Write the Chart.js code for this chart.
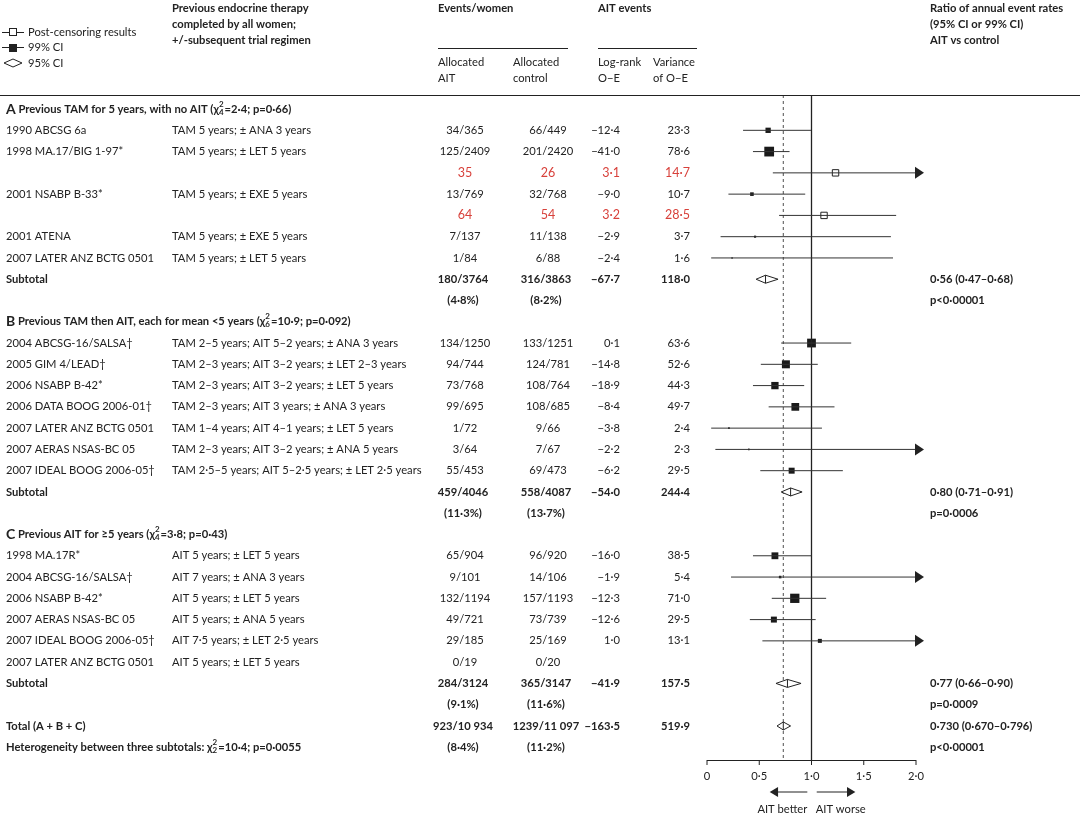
<!DOCTYPE html>
<html><head><meta charset="utf-8">
<script src="https://cdn.jsdelivr.net/npm/chart.js@4.4.1/dist/chart.umd.min.js"></script>
<style>html,body{margin:0;padding:0;background:#fff}canvas{display:block}</style>
</head><body>
<canvas id="c" width="1080" height="813"></canvas>
<script>
// row index -> study rows
const rowIdx = [1,2,3,4,5,6,7, 11,12,13,14,15,16,17, 21,22,23,24,25,26];
const studies = ["1990 ABCSG 6a","1998 MA.17/BIG 1-97*","","2001 NSABP B-33*","","2001 ATENA","2007 LATER ANZ BCTG 0501",
  "2004 ABCSG-16/SALSA†","2005 GIM 4/LEAD†","2006 NSABP B-42*","2006 DATA BOOG 2006-01†","2007 LATER ANZ BCTG 0501","2007 AERAS NSAS-BC 05","2007 IDEAL BOOG 2006-05†",
  "1998 MA.17R*","2004 ABCSG-16/SALSA†","2006 NSABP B-42*","2007 AERAS NSAS-BC 05","2007 IDEAL BOOG 2006-05†","2007 LATER ANZ BCTG 0501"];
const regimens = ["TAM 5 years; ± ANA 3 years","TAM 5 years; ± LET 5 years","","TAM 5 years; ± EXE 5 years","","TAM 5 years; ± EXE 5 years","TAM 5 years; ± LET 5 years",
  "TAM 2–5 years; AIT 5–2 years; ± ANA 3 years","TAM 2–3 years; AIT 3–2 years; ± LET 2–3 years","TAM 2–3 years; AIT 3–2 years; ± LET 5 years","TAM 2–3 years; AIT 3 years; ± ANA 3 years","TAM 1–4 years; AIT 4–1 years; ± LET 5 years","TAM 2–3 years; AIT 3–2 years; ± ANA 5 years","TAM 2·5–5 years; AIT 5–2·5 years; ± LET 2·5 years",
  "AIT 5 years; ± LET 5 years","AIT 7 years; ± ANA 3 years","AIT 5 years; ± LET 5 years","AIT 5 years; ± ANA 5 years","AIT 7·5 years; ± LET 2·5 years","AIT 5 years; ± LET 5 years"];
const aitEvents = ["34/365","125/2409","35","13/769","64","7/137","1/84","134/1250","94/744","73/768","99/695","1/72","3/64","55/453","65/904","9/101","132/1194","49/721","29/185","0/19"];
const ctrlEvents = ["66/449","201/2420","26","32/768","54","11/138","6/88","133/1251","124/781","108/764","108/685","9/66","7/67","69/473","96/920","14/106","157/1193","73/739","25/169","0/20"];
const oeText = ["−12·4","−41·0","3·1","−9·0","3·2","−2·9","−2·4","0·1","−14·8","−18·9","−8·4","−3·8","−2·2","−6·2","−16·0","−1·9","−12·3","−12·6","1·0",""];
const variance = [23.3,78.6,14.7,10.7,28.5,3.7,1.6,63.6,52.6,44.3,49.7,2.4,2.3,29.5,38.5,5.4,71.0,29.5,13.1,null];
const ratio = [0.585,0.595,1.23,0.43,1.12,0.46,0.24,1.0,0.755,0.65,0.845,0.21,0.40,0.81,0.65,0.70,0.84,0.64,1.08,null];
const ciLow = [0.345,0.44,0.63,0.205,0.69,0.13,0.04,0.71,0.515,0.44,0.59,0.04,0.08,0.51,0.44,0.23,0.62,0.41,0.53,null];
const ciHigh = [0.995,0.79,9,0.94,1.81,1.76,1.78,1.38,1.06,0.93,1.22,1.10,9,1.30,1.0,9,1.14,1.04,9,null];
const postCensor = [false,false,true,false,true,false,false,false,false,false,false,false,false,false,false,false,false,false,false,false];

// subtotals A, B, C and total
const subRow = [8,18,27,29];
const subLabel = ["Subtotal","Subtotal","Subtotal","Total (A + B + C)"];
const subAit = ["180/3764","459/4046","284/3124","923/10 934"];
const subCtrl = ["316/3863","558/4087","365/3147","1239/11 097"];
const subAitPct = ["(4·8%)","(11·3%)","(9·1%)","(8·4%)"];
const subCtrlPct = ["(8·2%)","(13·7%)","(11·6%)","(11·2%)"];
const subOe = ["−67·7","−54·0","−41·9","−163·5"];
const subVar = ["118·0","244·4","157·5","519·9"];
const subRatio = [0.56,0.80,0.77,0.73];
const subLow = [0.47,0.71,0.66,0.67];
const subHigh = [0.68,0.91,0.90,0.80];
const subRatioText = ["0·56 (0·47–0·68)","0·80 (0·71–0·91)","0·77 (0·66–0·90)","0·730 (0·670–0·796)"];
const subP = ["p<0·00001","p=0·0006","p=0·0009","p<0·00001"];

const xTicks = [0,0.5,1,1.5,2];
const xTickLabels = ["0","0·5","1·0","1·5","2·0"];
const overall = 0.73;

const RED = "#d8413b";
const F = "'Lato', 'Open Sans', sans-serif";
const FS = "11.2px ";
const idx = (a) => a.map((_, i) => i).filter(i => a[i] !== null);

function half(v) { return Math.sqrt(v) * 0.55; }

const solid = idx(ratio).filter(i => !postCensor[i]).map(i => ({x: ratio[i], y: rowIdx[i], r: half(variance[i]) / Math.SQRT1_2}));
const open = idx(ratio).filter(i => postCensor[i]).map(i => ({x: ratio[i], y: rowIdx[i], r: 3.2 / Math.SQRT1_2}));

function chiText(ctx, x, y, parts, bold) {
  // parts: strings, or [sup, sub] after a chi
  for (const p of parts) {
    ctx.font = (bold ? "bold " : "") + FS + F;
    if (typeof p === "string") {
      ctx.fillText(p, x, y); x += ctx.measureText(p).width;
    } else {
      ctx.fillText("χ", x, y); x += ctx.measureText("χ").width;
      ctx.font = (bold ? "bold " : "") + "8px " + F;
      ctx.fillText(p[0], x, y - 5); ctx.fillText(p[1], x, y + 3);
      x += ctx.measureText(p[1]).width + 1;
    }
  }
}

const forest = {
  id: "forest",
  afterDatasetsDraw(chart) {
    const ctx = chart.ctx, xs = chart.scales.x, ys = chart.scales.y;
    const px = v => xs.getPixelForValue(v), py = r => ys.getPixelForValue(r);
    const top = chart.chartArea.top, axisY = chart.chartArea.bottom;
    ctx.save();
    ctx.fillStyle = "#222"; ctx.strokeStyle = "#222"; ctx.textBaseline = "middle";

    // header
    ctx.font = "bold " + FS + F; ctx.textAlign = "left";
    ["Previous endocrine therapy","completed by all women;","+/-subsequent trial regimen"].forEach((t, i) => ctx.fillText(t, 172, 8 + i * 16));
    ctx.fillText("Events/women", 438, 8);
    ctx.fillText("AIT events", 598, 8);
    ["Ratio of annual event rates","(95% CI or 99% CI)","AIT vs control"].forEach((t, i) => ctx.fillText(t, 930, 8 + i * 16));
    ctx.font = FS + F;
    ctx.fillText("Allocated", 438, 62); ctx.fillText("AIT", 438, 78);
    ctx.fillText("Allocated", 513, 62); ctx.fillText("control", 513, 78);
    ctx.fillText("Log-rank", 598, 62); ctx.fillText("O−E", 598, 78);
    ctx.fillText("Variance", 653, 62); ctx.fillText("of O−E", 653, 78);
    ctx.lineWidth = 1;
    ctx.beginPath();
    ctx.moveTo(438, 48.5); ctx.lineTo(568, 48.5);
    ctx.moveTo(598, 48.5); ctx.lineTo(697, 48.5);
    ctx.moveTo(0, 95.5); ctx.lineTo(1080, 95.5);
    ctx.stroke();

    // legend
    ctx.beginPath();
    ctx.moveTo(2, 32.5); ctx.lineTo(24, 32.5);
    ctx.moveTo(2, 47.5); ctx.lineTo(24, 47.5);
    ctx.stroke();
    ctx.fillStyle = "#fff"; ctx.fillRect(9.5, 28.5, 7, 7); ctx.strokeRect(9.5, 28.5, 7, 7);
    ctx.fillStyle = "#222"; ctx.fillRect(9, 44, 8, 8);
    ctx.beginPath(); ctx.moveTo(4, 63); ctx.lineTo(13, 59); ctx.lineTo(22, 63); ctx.lineTo(13, 67); ctx.closePath(); ctx.stroke();
    ctx.font = FS + F;
    ctx.fillText("Post-censoring results", 28, 32); ctx.fillText("99% CI", 28, 47); ctx.fillText("95% CI", 28, 63);

    // section headers
    const sec = [[0, "A", [" Previous TAM for 5 years, with no AIT (", ["2", "4"], "=2·4; p=0·66)"]],
                 [10, "B", [" Previous TAM then AIT, each for mean <5 years (", ["2", "6"], "=10·9; p=0·092)"]],
                 [20, "C", [" Previous AIT for ≥5 years (", ["2", "4"], "=3·8; p=0·43)"]]];
    sec.forEach(([r, L, parts]) => {
      ctx.font = "bold 14px " + F; ctx.fillText(L, 6, py(r));
      const w = ctx.measureText(L).width;
      chiText(ctx, 6 + w, py(r), parts, true);
    });
    chiText(ctx, 6, py(30), ["Heterogeneity between three subtotals: ", ["2", "2"], "=10·4; p=0·0055"], true);

    // reference lines
    ctx.beginPath(); ctx.lineWidth = 1.3;
    ctx.moveTo(px(1), top); ctx.lineTo(px(1), axisY); ctx.stroke();
    ctx.setLineDash([3, 3]); ctx.lineWidth = 0.8;
    ctx.beginPath(); ctx.moveTo(px(overall), top); ctx.lineTo(px(overall), axisY); ctx.stroke();
    ctx.setLineDash([]);

    // study rows
    rowIdx.forEach((r, i) => {
      const y = py(r);
      ctx.fillStyle = "#222"; ctx.font = FS + F; ctx.textAlign = "left";
      ctx.fillText(studies[i], 6, y); ctx.fillText(regimens[i], 172, y);
      ctx.fillStyle = postCensor[i] ? RED : "#222";
      ctx.font = (postCensor[i] ? "12.5px " : FS) + F;
      ctx.textAlign = "center"; ctx.fillText(aitEvents[i], 465, y); ctx.fillText(ctrlEvents[i], 548, y);
      ctx.textAlign = "right"; ctx.fillText(oeText[i], 620, y);
      if (variance[i] !== null) ctx.fillText(variance[i].toFixed(1).replace(".", "·"), 690, y);
      if (ratio[i] === null) return;
      ctx.strokeStyle = "#333"; ctx.lineWidth = 1;
      const hi = Math.min(ciHigh[i], 2);
      ctx.beginPath(); ctx.moveTo(px(ciLow[i]), y); ctx.lineTo(px(hi), y); ctx.stroke();
      if (ciHigh[i] > 2) {
        ctx.fillStyle = "#222";
        ctx.beginPath(); ctx.moveTo(px(2) - 1, y - 6); ctx.lineTo(px(2) + 8, y); ctx.lineTo(px(2) - 1, y + 6); ctx.closePath(); ctx.fill();
      }
    });

    // subtotals
    subRow.forEach((r, i) => {
      const y = py(r), y2 = py(r + 1);
      ctx.fillStyle = "#222"; ctx.font = "bold " + FS + F; ctx.textAlign = "left";
      ctx.fillText(subLabel[i], 6, y);
      ctx.fillText(subRatioText[i], 930, y); ctx.fillText(subP[i], 930, y2);
      ctx.textAlign = "center";
      ctx.fillText(subAit[i], 463, y); ctx.fillText(subCtrl[i], 546, y);
      ctx.fillText(subAitPct[i], 463, y2); ctx.fillText(subCtrlPct[i], 546, y2);
      ctx.textAlign = "right"; ctx.fillText(subOe[i], 620, y); ctx.fillText(subVar[i], 690, y);
      ctx.strokeStyle = "#222"; ctx.lineWidth = 1; ctx.fillStyle = "#fff";
      ctx.beginPath();
      ctx.moveTo(px(subLow[i]), y); ctx.lineTo(px(subRatio[i]), y - 4);
      ctx.lineTo(px(subHigh[i]), y); ctx.lineTo(px(subRatio[i]), y + 4); ctx.closePath();
      ctx.fill(); ctx.stroke();
      ctx.beginPath(); ctx.moveTo(px(subRatio[i]), y - 4); ctx.lineTo(px(subRatio[i]), y + 4); ctx.stroke();
    });

    // x axis
    ctx.strokeStyle = "#222"; ctx.lineWidth = 1; ctx.fillStyle = "#222";
    ctx.beginPath(); ctx.moveTo(px(0), axisY + 0.5); ctx.lineTo(px(2), axisY + 0.5);
    xTicks.forEach(t => { ctx.moveTo(px(t), axisY); ctx.lineTo(px(t), axisY + 5); });
    ctx.stroke();
    ctx.font = FS + F; ctx.textAlign = "center";
    xTicks.forEach((t, i) => ctx.fillText(xTickLabels[i], px(t), axisY + 16));
    const ay = axisY + 32;
    ctx.lineWidth = 1.2;
    ctx.beginPath(); ctx.moveTo(px(0.96), ay); ctx.lineTo(px(0.66), ay);
    ctx.moveTo(px(1.05), ay); ctx.lineTo(px(1.35), ay); ctx.stroke();
    ctx.beginPath(); ctx.moveTo(px(0.6), ay); ctx.lineTo(px(0.68), ay - 5); ctx.lineTo(px(0.68), ay + 5); ctx.closePath(); ctx.fill();
    ctx.beginPath(); ctx.moveTo(px(1.42), ay); ctx.lineTo(px(1.34), ay - 5); ctx.lineTo(px(1.34), ay + 5); ctx.closePath(); ctx.fill();
    ctx.textAlign = "right"; ctx.fillText("AIT better", px(0.96), ay + 17);
    ctx.textAlign = "left"; ctx.fillText("AIT worse", px(1.04), ay + 17);
    ctx.restore();
  }
};

new Chart(document.getElementById("c"), {
  type: "scatter",
  data: {
    datasets: [
      { data: solid, pointStyle: "rect", backgroundColor: "#1a1a1a", borderColor: "#1a1a1a", borderWidth: 0, pointRadius: solid.map(d => d.r) },
      { data: open, pointStyle: "rect", backgroundColor: "#fff", borderColor: "#222", borderWidth: 1, pointRadius: open.map(d => d.r) }
    ]
  },
  options: {
    responsive: false, animation: false, devicePixelRatio: 1,
    layout: { padding: { left: 707, right: 164, top: 95, bottom: 53 } },
    scales: {
      x: { type: "linear", min: 0, max: 2, display: false },
      y: { type: "linear", min: -0.66, max: 30.6, reverse: true, display: false }
    },
    plugins: { legend: { display: false }, tooltip: { enabled: false } },
    clip: false
  },
  plugins: [forest]
});
</script>
</body></html>
